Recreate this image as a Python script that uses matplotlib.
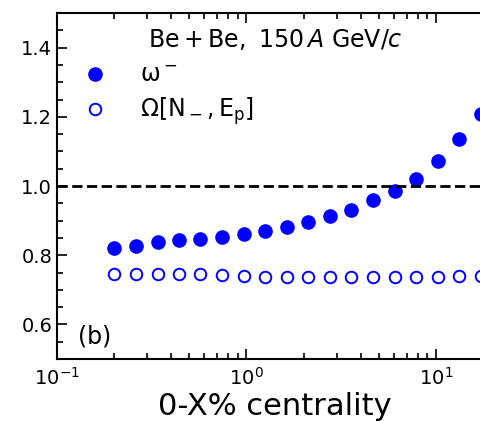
import numpy as np
import matplotlib
matplotlib.use("Agg")
import matplotlib.pyplot as plt
from matplotlib.ticker import MultipleLocator, LogLocator, NullFormatter

# centrality class (0-X %)
centrality = [0.2, 0.26, 0.34, 0.44, 0.57, 0.74, 0.97, 1.25, 1.63, 2.12,
              2.76, 3.58, 4.66, 6.06, 7.87, 10.2, 13.3, 17.3]
# scaled variance of negatively charged particles
omega_minus = [0.820, 0.826, 0.838, 0.843, 0.848, 0.853, 0.860, 0.870, 0.881, 0.897,
               0.912, 0.932, 0.959, 0.985, 1.020, 1.072, 1.136, 1.209]
# strongly intensive quantity
Omega_NE = [0.745, 0.745, 0.747, 0.747, 0.745, 0.743, 0.741, 0.738, 0.738, 0.737,
            0.736, 0.736, 0.738, 0.736, 0.736, 0.738, 0.740, 0.741]

fig = plt.figure(figsize=(4.81, 4.21), dpi=100)
# axes run past the right edge of the figure (cropped panel)
ax = fig.add_axes([57 / 481, 62 / 421, 568.5 / 481, 346 / 421])

ax.plot(centrality, omega_minus, 'o', color='b', ms=9.5, label=r'$\mathrm{\omega}^-$',
        clip_on=False)
ax.plot(centrality, Omega_NE, 'o', mfc='none', mec='b', mew=1.4, ms=8.3,
        label=r'$\mathrm{\Omega[N_-, E_p]}$', clip_on=False)
ax.axhline(1.0, color='k', ls='--', lw=2)

ax.set_xscale('log')
ax.set_xlim(0.1, 100)
ax.set_ylim(0.5, 1.5)
ax.set_xticks([0.1, 1, 10])
ax.yaxis.set_major_locator(MultipleLocator(0.2))
ax.yaxis.set_minor_locator(MultipleLocator(0.05))
ax.xaxis.set_minor_locator(LogLocator(base=10, subs=np.arange(2, 10), numticks=20))
ax.xaxis.set_minor_formatter(NullFormatter())
ax.set_yticks([0.6, 0.8, 1.0, 1.2, 1.4])
ax.set_yticklabels(['0.6', '0.8', '1.0', '1.2', '1.4'])

ax.tick_params(which='both', direction='in', top=True, right=True, labelsize=14, width=1.2)
ax.tick_params(which='major', length=7)
ax.tick_params(which='minor', length=4)
ax.tick_params(axis='x', pad=6)
for s in ax.spines.values():
    s.set_linewidth(1.5)

ax.set_xlabel('0-X% centrality', fontsize=22)
ax.xaxis.set_label_coords(0.3835, -0.095)

ax.text(0.3835, 0.922, r'$\mathrm{Be+Be,\ 150}\,A\ \mathrm{GeV}/c$',
        transform=ax.transAxes, ha='center', va='center', fontsize=17)
ax.text(0.037, 0.064, '(b)', transform=ax.transAxes, ha='left', va='center', fontsize=17)

ax.legend(loc='upper left', bbox_to_anchor=(0.046, 0.855), frameon=False,
          fontsize=17, handlelength=1, handletextpad=1.4, borderpad=0,
          borderaxespad=0, labelspacing=0.35)

fig.savefig('out.png', dpi=100)
